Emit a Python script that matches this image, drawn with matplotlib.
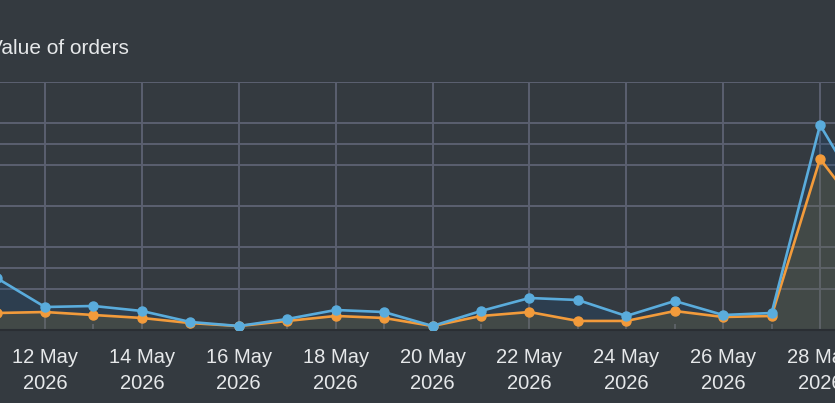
#!/usr/bin/env python3
"""Value of orders, daily, May 2026 (dark dashboard style, cropped view)."""
import datetime as dt
import matplotlib
matplotlib.use("Agg")
import matplotlib.pyplot as plt
import matplotlib.dates as mdates
import numpy as np

# ── Data ──────────────────────────────────────────────────────────────────────
days = [dt.date(2026, 5, d) for d in range(11, 30)]
orders_value = [1260, 556, 581, 460, 194, 97, 266, 484, 435, 97,
                460, 774, 726, 339, 702, 363, 411, 4960, 3000]      # left axis
orders_count = [137, 145, 121, 97, 56, 32, 73, 113, 97, 32,
                113, 145, 73, 73, 153, 105, 113, 1380, 870]         # right axis

BG = "#343a40"
GRID = "#5b6070"
BLUE = "#5aacdc"
ORANGE = "#f29b3b"

plt.rcParams["font.family"] = ["Liberation Sans", "DejaVu Sans"]

fig = plt.figure(figsize=(8.35, 4.03), dpi=100, facecolor=BG)
ax = fig.add_axes([0, 73 / 403, 1, 248 / 403])
ax2 = ax.twinx()
# right axis sits behind and only carries its scale + grid
ax2.set_zorder(0)
ax.set_zorder(1)
ax.patch.set_visible(False)
ax2.patch.set_facecolor(BG)

x = mdates.date2num(days)
x12 = mdates.date2num(dt.date(2026, 5, 12))
px_per_day = 48.44
ax.set_xlim(x12 - 45 / px_per_day, x12 + 790 / px_per_day)

ax.set_ylim(0, 6000)
ax.set_yticks(np.arange(0, 6001, 1000))
ax2.set_ylim(0, 2000)
ax2.set_yticks(np.arange(0, 2001, 500))

# fills (translucent so the grid shows through)
ax.fill_between(x, orders_value, 0, color="#14508c", alpha=0.2, lw=0, zorder=1)
ax.fill_between(x, orders_count, 0, color="#c0881f", alpha=0.15, lw=0, zorder=2,
                transform=ax2.transData)

ax.plot(x, orders_count, color=ORANGE, lw=1.9, marker="o", ms=6.5, zorder=4,
        transform=ax2.transData)
ax.plot(x, orders_value, color=BLUE, lw=1.9, marker="o", ms=6.5, zorder=5)

for a in (ax, ax2):
    a.grid(axis="y", color=GRID, lw=1.4, zorder=0)
    a.tick_params(axis="y", length=0, labelleft=False, labelright=False)
    for s in a.spines.values():
        s.set_visible(False)
    a.set_axisbelow(True)
ax.spines["bottom"].set_visible(True)
ax.spines["bottom"].set_color("#2a2e33")
ax.spines["bottom"].set_linewidth(1.5)

ax.xaxis.set_major_locator(mdates.DayLocator(bymonthday=range(2, 32, 2)))
ax.xaxis.set_minor_locator(mdates.DayLocator(bymonthday=range(1, 32, 2)))
ax.xaxis.set_major_formatter(mdates.DateFormatter("%-d %b\n%Y"))
ax.grid(axis="x", which="major", color=GRID, lw=1.4, zorder=0)
ax.tick_params(axis="x", which="major", length=0, pad=13, labelsize=14.5,
               labelcolor="#e6e8ea")
ax.tick_params(axis="x", which="minor", length=4, width=1.4, color=GRID,
               direction="in")
for lbl in ax.get_xticklabels():
    lbl.set_linespacing(1.45)
ax2.tick_params(axis="x", length=0, labelbottom=False)

fig.text(-11 / 835, 1 - 54 / 403, "Value of orders", fontsize=15,
         color="#e6e8ea", ha="left", va="baseline")

fig.savefig("out.png", dpi=100, facecolor=BG)
